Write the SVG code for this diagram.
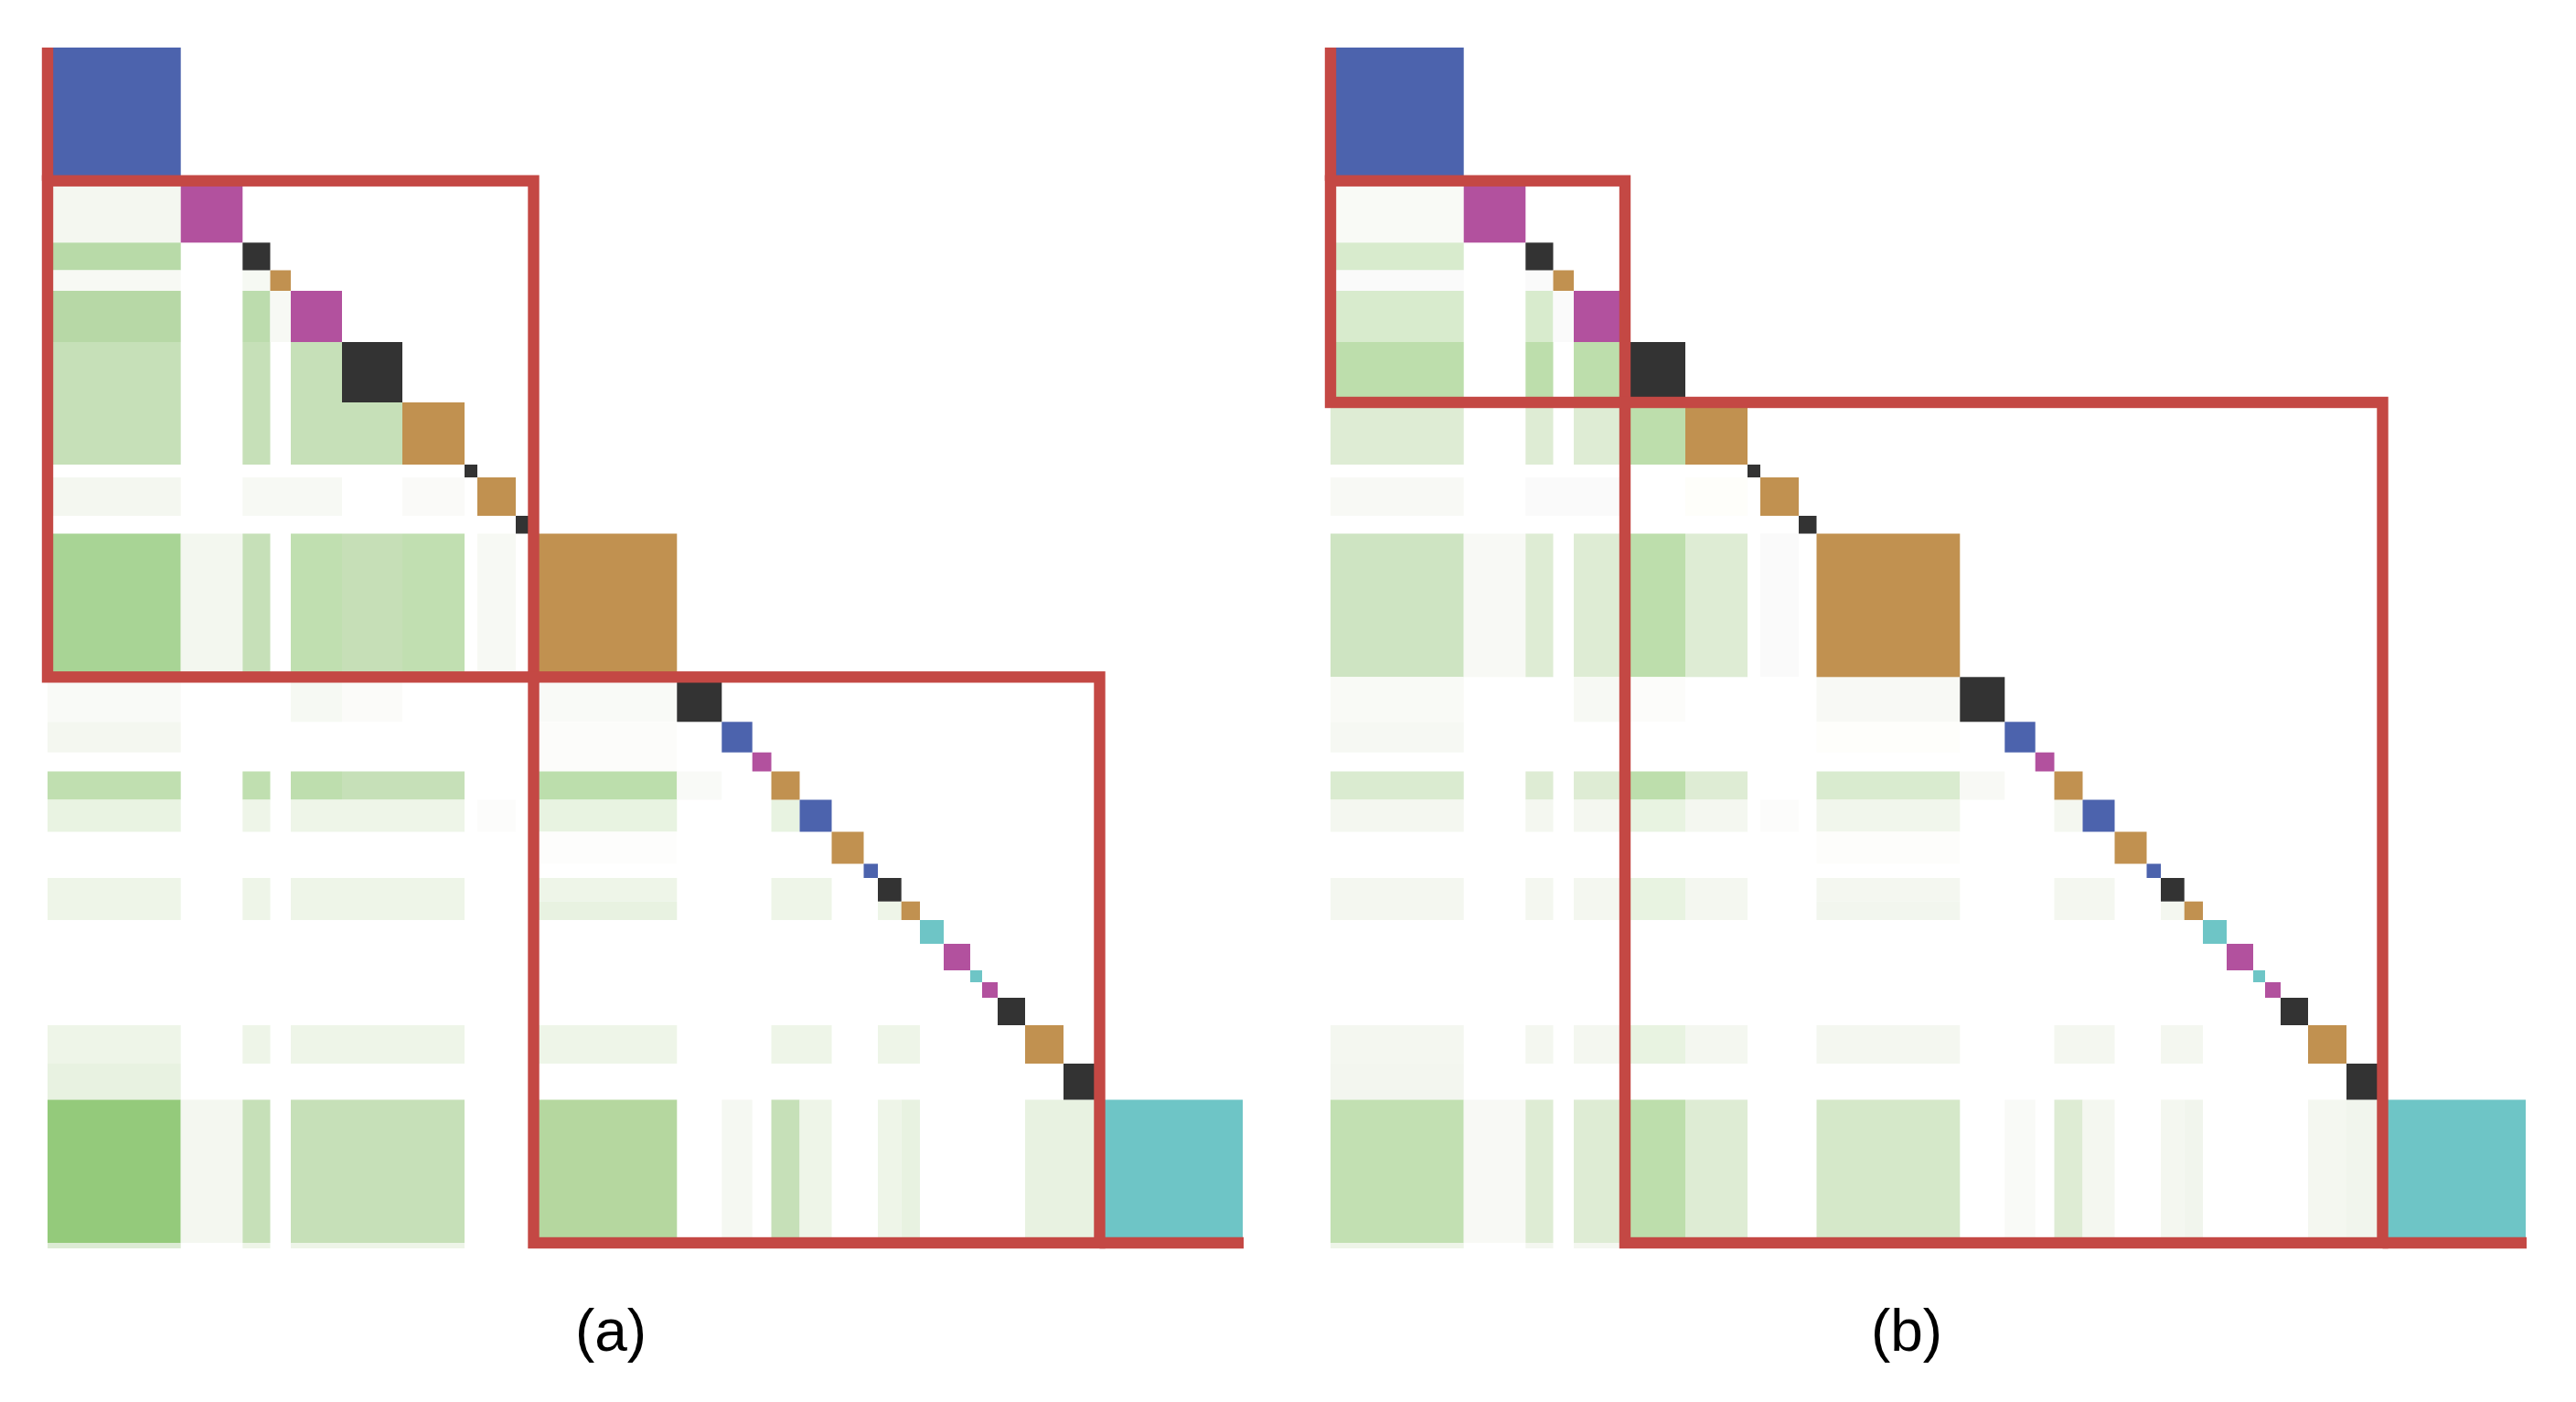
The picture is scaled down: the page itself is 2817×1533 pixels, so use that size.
<svg xmlns="http://www.w3.org/2000/svg" xmlns:xlink="http://www.w3.org/1999/xlink" width="2817" height="1533" viewBox="0 0 2817 1533">
<style>
.bl{fill:#4C63AD}.mg{fill:#B2519E}.bk{fill:#333333}.or{fill:#C19150}.cy{fill:#6EC5C6}
.rl{fill:none;stroke:#C44844;stroke-width:12.4;stroke-linecap:butt;stroke-linejoin:miter}
.lbl{font-family:"Liberation Sans",Arial,sans-serif;font-size:64px;fill:#000}
</style>
<defs>
<g id="diag">
<rect class="bl" x="52" y="52" width="145.7" height="145.7"/>
<rect class="mg" x="197.7" y="197.7" width="67.6" height="67.6"/>
<rect class="bk" x="265.3" y="265.3" width="30.2" height="30.2"/>
<rect class="or" x="295.5" y="295.5" width="22.5" height="22.5"/>
<rect class="mg" x="318" y="318" width="56" height="56"/>
<rect class="bk" x="374" y="374" width="66" height="66"/>
<rect class="or" x="440" y="440" width="68" height="68"/>
<rect class="bk" x="508" y="508" width="14" height="14"/>
<rect class="or" x="522" y="522" width="42" height="42"/>
<rect class="bk" x="564" y="564" width="19.5" height="19.5"/>
<rect class="or" x="583.5" y="583.5" width="156.8" height="156.8"/>
<rect class="bk" x="740.3" y="740.3" width="49" height="49"/>
<rect class="bl" x="789.3" y="789.3" width="33.4" height="33.4"/>
<rect class="mg" x="822.7" y="822.7" width="20.8" height="20.8"/>
<rect class="or" x="843.5" y="843.5" width="31" height="31"/>
<rect class="bl" x="874.5" y="874.5" width="35" height="35"/>
<rect class="or" x="909.5" y="909.5" width="35" height="35"/>
<rect class="bl" x="944.5" y="944.5" width="15.5" height="15.5"/>
<rect class="bk" x="960" y="960" width="25.7" height="25.7"/>
<rect class="or" x="985.7" y="985.7" width="20.3" height="20.3"/>
<rect class="cy" x="1006" y="1006" width="26" height="26"/>
<rect class="mg" x="1032" y="1032" width="29" height="29"/>
<rect class="cy" x="1061" y="1061" width="13" height="13"/>
<rect class="mg" x="1074" y="1074" width="17" height="17"/>
<rect class="bk" x="1091" y="1091" width="30" height="30"/>
<rect class="or" x="1121" y="1121" width="42" height="42"/>
<rect class="bk" x="1163" y="1163" width="39.5" height="39.5"/>
<rect class="cy" x="1202.5" y="1202.5" width="156.5" height="156.5"/>
</g>
</defs>
<rect x="0" y="0" width="2817" height="1533" fill="#FFFFFF"/>

<g id="panel-a">
<g id="a-cells">
<rect x="52" y="197.7" width="145.7" height="67.6" fill="#F4F7F0"/>
<rect x="52" y="265.3" width="145.7" height="30.2" fill="#B8DAA8"/>
<rect x="52" y="295.5" width="145.7" height="22.5" fill="#F7F9F4"/>
<rect x="265.3" y="295.5" width="30.2" height="22.5" fill="#F6F9F3"/>
<rect x="52" y="318" width="145.7" height="56" fill="#B7D8A6"/>
<rect x="265.3" y="318" width="30.2" height="56" fill="#BCDCAD"/>
<rect x="295.5" y="318" width="22.5" height="56" fill="#F7F9F4"/>
<rect x="52" y="374" width="145.7" height="66" fill="#C6E0B8"/>
<rect x="265.3" y="374" width="30.2" height="66" fill="#C6E0B8"/>
<rect x="318" y="374" width="56" height="66" fill="#C6E0B8"/>
<rect x="52" y="440" width="145.7" height="68" fill="#C6E0B8"/>
<rect x="265.3" y="440" width="30.2" height="68" fill="#C6E0B8"/>
<rect x="318" y="440" width="122" height="68" fill="#C6E0B8"/>
<rect x="52" y="522" width="145.7" height="42" fill="#F4F7F0"/>
<rect x="265.3" y="522" width="108.7" height="42" fill="#F7F9F4"/>
<rect x="440" y="522" width="68" height="42" fill="#FAFAF8"/>
<rect x="52" y="583.5" width="145.7" height="156.8" fill="#A8D495"/>
<rect x="197.7" y="583.5" width="67.6" height="156.8" fill="#F3F7EF"/>
<rect x="265.3" y="583.5" width="30.2" height="156.8" fill="#C6E0B8"/>
<rect x="318" y="583.5" width="56" height="156.8" fill="#C0DFB0"/>
<rect x="374" y="583.5" width="66" height="156.8" fill="#C6DFB7"/>
<rect x="440" y="583.5" width="68" height="156.8" fill="#C1DFB1"/>
<rect x="522" y="583.5" width="42" height="156.8" fill="#F7F9F4"/>
<rect x="52" y="740.3" width="145.7" height="49" fill="#F9FAF7"/>
<rect x="318" y="740.3" width="56" height="49" fill="#F6F9F3"/>
<rect x="374" y="740.3" width="66" height="49" fill="#FBFBF9"/>
<rect x="583.5" y="740.3" width="156.8" height="49" fill="#F9FAF7"/>
<rect x="52" y="789.3" width="145.7" height="33.4" fill="#F4F7F0"/>
<rect x="583.5" y="789.3" width="156.8" height="54.2" fill="#FCFCFA"/>
<rect x="52" y="843.5" width="145.7" height="31" fill="#C0DFB0"/>
<rect x="265.3" y="843.5" width="30.2" height="31" fill="#C0DFB0"/>
<rect x="318" y="843.5" width="56" height="31" fill="#BEDEAE"/>
<rect x="374" y="843.5" width="134" height="31" fill="#C6E0B8"/>
<rect x="583.5" y="843.5" width="156.8" height="31" fill="#BCDEAC"/>
<rect x="740.3" y="843.5" width="49" height="31" fill="#F9FAF7"/>
<rect x="52" y="874.5" width="145.7" height="35" fill="#E9F3E2"/>
<rect x="265.3" y="874.5" width="30.2" height="35" fill="#EEF5E8"/>
<rect x="318" y="874.5" width="190" height="35" fill="#EEF5E8"/>
<rect x="522" y="874.5" width="42" height="35" fill="#FCFCFB"/>
<rect x="583.5" y="874.5" width="156.8" height="35" fill="#E8F3E1"/>
<rect x="843.5" y="874.5" width="31" height="35" fill="#E8F3E1"/>
<rect x="583.5" y="909.5" width="156.8" height="35" fill="#FDFDFC"/>
<rect x="52" y="960" width="145.7" height="46" fill="#EEF5E8"/>
<rect x="265.3" y="960" width="30.2" height="46" fill="#EEF5E8"/>
<rect x="318" y="960" width="190" height="46" fill="#EEF5E8"/>
<rect x="583.5" y="960" width="156.8" height="25.7" fill="#EEF5E8"/>
<rect x="583.5" y="985.7" width="156.8" height="20.3" fill="#E8F2E1"/>
<rect x="843.5" y="960" width="66" height="46" fill="#EEF5E8"/>
<rect x="960" y="985.7" width="25.7" height="20.3" fill="#EEF5E8"/>
<rect x="52" y="1121" width="145.7" height="42" fill="#EEF5E8"/>
<rect x="265.3" y="1121" width="30.2" height="42" fill="#EEF5E8"/>
<rect x="318" y="1121" width="190" height="42" fill="#EEF5E8"/>
<rect x="583.5" y="1121" width="156.8" height="42" fill="#EEF5E8"/>
<rect x="843.5" y="1121" width="66" height="42" fill="#EEF5E8"/>
<rect x="960" y="1121" width="46" height="42" fill="#EEF5E8"/>
<rect x="52" y="1163" width="145.7" height="39.5" fill="#E8F2E1"/>
<rect x="52" y="1202.5" width="145.7" height="156.5" fill="#94CA7B"/>
<rect x="197.7" y="1202.5" width="67.6" height="156.5" fill="#F4F7F0"/>
<rect x="265.3" y="1202.5" width="30.2" height="156.5" fill="#C6E0B8"/>
<rect x="318" y="1202.5" width="190" height="156.5" fill="#C6E0B8"/>
<rect x="583.5" y="1202.5" width="156.8" height="156.5" fill="#B5D79F"/>
<rect x="789.3" y="1202.5" width="33.4" height="156.5" fill="#F5F8F2"/>
<rect x="843.5" y="1202.5" width="31" height="156.5" fill="#C6E0B8"/>
<rect x="874.5" y="1202.5" width="35" height="156.5" fill="#EEF5E8"/>
<rect x="960" y="1202.5" width="25.7" height="156.5" fill="#EEF5E8"/>
<rect x="985.7" y="1202.5" width="20.3" height="156.5" fill="#E8F2E1"/>
<rect x="1121" y="1202.5" width="81.5" height="156.5" fill="#E8F2E1"/>
<rect x="52" y="1359" width="145.7" height="6" fill="#DCEBD4"/>
<rect x="265.3" y="1359" width="30.2" height="6" fill="#EEF5E8"/>
<rect x="318" y="1359" width="190" height="6" fill="#EEF5E8"/>
</g>
<use xlink:href="#diag" href="#diag"/>
<g id="a-boxes">
<path class="rl" d="M52,52 V197.7"/>
<rect class="rl" x="52" y="197.7" width="531.5" height="542.6"/>
<rect class="rl" x="583.5" y="740.3" width="619" height="618.7"/>
<path class="rl" d="M1202.5,1359 H1360"/>
</g>
<text class="lbl" x="668" y="1477" text-anchor="middle">(a)</text>
</g>

<g id="panel-b">
<g id="b-cells" transform="translate(1403,0)">
<rect x="52" y="197.7" width="145.7" height="67.6" fill="#F9FAF6"/>
<rect x="52" y="265.3" width="145.7" height="30.2" fill="#D8EBCD"/>
<rect x="52" y="295.5" width="145.7" height="22.5" fill="#FAFAFA"/>
<rect x="265.3" y="295.5" width="30.2" height="22.5" fill="#FAFAFA"/>
<rect x="52" y="318" width="145.7" height="56" fill="#D8EBCD"/>
<rect x="265.3" y="318" width="30.2" height="56" fill="#D8EBCD"/>
<rect x="295.5" y="318" width="22.5" height="56" fill="#FAFAFA"/>
<rect x="52" y="374" width="145.7" height="66" fill="#BDDEAC"/>
<rect x="265.3" y="374" width="30.2" height="66" fill="#BDDEAC"/>
<rect x="318" y="374" width="56" height="66" fill="#BDDEAC"/>
<rect x="52" y="440" width="145.7" height="68" fill="#DEECD4"/>
<rect x="265.3" y="440" width="30.2" height="68" fill="#DEECD4"/>
<rect x="318" y="440" width="56" height="68" fill="#DEECD4"/>
<rect x="374" y="440" width="66" height="68" fill="#BDDEAC"/>
<rect x="52" y="522" width="145.7" height="42" fill="#F8F9F5"/>
<rect x="265.3" y="522" width="108.7" height="42" fill="#FAFAFA"/>
<rect x="440" y="522" width="68" height="42" fill="#FEFEFA"/>
<rect x="52" y="583.5" width="145.7" height="156.8" fill="#CEE4C2"/>
<rect x="197.7" y="583.5" width="67.6" height="156.8" fill="#F8F9F5"/>
<rect x="265.3" y="583.5" width="30.2" height="156.8" fill="#DEECD4"/>
<rect x="318" y="583.5" width="56" height="156.8" fill="#DEECD4"/>
<rect x="374" y="583.5" width="66" height="156.8" fill="#BDDEAC"/>
<rect x="440" y="583.5" width="68" height="156.8" fill="#DEECD4"/>
<rect x="522" y="583.5" width="42" height="156.8" fill="#FAFAFA"/>
<rect x="52" y="740.3" width="145.7" height="49" fill="#F9FAF6"/>
<rect x="318" y="740.3" width="56" height="49" fill="#F7F9F4"/>
<rect x="374" y="740.3" width="66" height="49" fill="#FCFCFA"/>
<rect x="583.5" y="740.3" width="156.8" height="49" fill="#F8F9F5"/>
<rect x="52" y="789.3" width="145.7" height="33.4" fill="#F6F8F3"/>
<rect x="583.5" y="789.3" width="156.8" height="33.4" fill="#FEFEFB"/>
<rect x="52" y="843.5" width="145.7" height="31" fill="#DAEBD0"/>
<rect x="265.3" y="843.5" width="30.2" height="31" fill="#DEECD4"/>
<rect x="318" y="843.5" width="56" height="31" fill="#DEECD4"/>
<rect x="374" y="843.5" width="66" height="31" fill="#BDDEAC"/>
<rect x="440" y="843.5" width="68" height="31" fill="#DEECD4"/>
<rect x="583.5" y="843.5" width="156.8" height="31" fill="#D9EBCF"/>
<rect x="740.3" y="843.5" width="49" height="31" fill="#F8F9F5"/>
<rect x="52" y="874.5" width="145.7" height="35" fill="#F4F7F0"/>
<rect x="265.3" y="874.5" width="30.2" height="35" fill="#F4F7F0"/>
<rect x="318" y="874.5" width="56" height="35" fill="#F4F7F0"/>
<rect x="374" y="874.5" width="66" height="35" fill="#E8F3E1"/>
<rect x="440" y="874.5" width="68" height="35" fill="#F4F7F0"/>
<rect x="522" y="874.5" width="42" height="35" fill="#FCFCFB"/>
<rect x="583.5" y="874.5" width="156.8" height="35" fill="#F1F6EC"/>
<rect x="843.5" y="874.5" width="31" height="35" fill="#F4F7F0"/>
<rect x="583.5" y="909.5" width="156.8" height="35" fill="#FDFDFB"/>
<rect x="52" y="960" width="145.7" height="46" fill="#F4F7F0"/>
<rect x="265.3" y="960" width="30.2" height="46" fill="#F4F7F0"/>
<rect x="318" y="960" width="56" height="46" fill="#F4F7F0"/>
<rect x="374" y="960" width="66" height="46" fill="#E8F3E1"/>
<rect x="440" y="960" width="68" height="46" fill="#F4F7F0"/>
<rect x="583.5" y="960" width="156.8" height="25.7" fill="#F4F7F0"/>
<rect x="583.5" y="985.7" width="156.8" height="20.3" fill="#F2F6EE"/>
<rect x="843.5" y="960" width="66" height="46" fill="#F4F7F0"/>
<rect x="960" y="985.7" width="25.7" height="20.3" fill="#F4F7F0"/>
<rect x="52" y="1121" width="145.7" height="42" fill="#F4F7F0"/>
<rect x="265.3" y="1121" width="30.2" height="42" fill="#F4F7F0"/>
<rect x="318" y="1121" width="56" height="42" fill="#F4F7F0"/>
<rect x="374" y="1121" width="66" height="42" fill="#E8F3E1"/>
<rect x="440" y="1121" width="68" height="42" fill="#F4F7F0"/>
<rect x="583.5" y="1121" width="156.8" height="42" fill="#F4F7F0"/>
<rect x="843.5" y="1121" width="66" height="42" fill="#F4F7F0"/>
<rect x="960" y="1121" width="46" height="42" fill="#F4F7F0"/>
<rect x="52" y="1163" width="145.7" height="39.5" fill="#F3F6EF"/>
<rect x="52" y="1202.5" width="145.7" height="156.5" fill="#C2E0B2"/>
<rect x="197.7" y="1202.5" width="67.6" height="156.5" fill="#F8F9F5"/>
<rect x="265.3" y="1202.5" width="30.2" height="156.5" fill="#DEECD4"/>
<rect x="318" y="1202.5" width="56" height="156.5" fill="#DEECD4"/>
<rect x="374" y="1202.5" width="66" height="156.5" fill="#BDDEAC"/>
<rect x="440" y="1202.5" width="68" height="156.5" fill="#DEECD4"/>
<rect x="583.5" y="1202.5" width="156.8" height="156.5" fill="#D5E8C9"/>
<rect x="789.3" y="1202.5" width="33.4" height="156.5" fill="#F9FAF7"/>
<rect x="843.5" y="1202.5" width="31" height="156.5" fill="#DEECD4"/>
<rect x="874.5" y="1202.5" width="35" height="156.5" fill="#F4F7F0"/>
<rect x="960" y="1202.5" width="25.7" height="156.5" fill="#F4F7F0"/>
<rect x="985.7" y="1202.5" width="20.3" height="156.5" fill="#F1F5ED"/>
<rect x="1121" y="1202.5" width="42" height="156.5" fill="#F4F7F0"/>
<rect x="1163" y="1202.5" width="39.5" height="156.5" fill="#F1F5ED"/>
<rect x="52" y="1359" width="145.7" height="6" fill="#EEF5E8"/>
<rect x="265.3" y="1359" width="30.2" height="6" fill="#F4F7F0"/>
<rect x="318" y="1359" width="190" height="6" fill="#F4F7F0"/>
</g>
<use xlink:href="#diag" href="#diag" transform="translate(1403,0)"/>
<g id="b-boxes" transform="translate(1403,0)">
<path class="rl" d="M52,52 V197.7"/>
<rect class="rl" x="52" y="197.7" width="322" height="242.3"/>
<rect class="rl" x="374" y="440" width="828.5" height="919"/>
<path class="rl" d="M1202.5,1359 H1360"/>
</g>
<text class="lbl" x="2085" y="1477" text-anchor="middle">(b)</text>
</g>
</svg>
